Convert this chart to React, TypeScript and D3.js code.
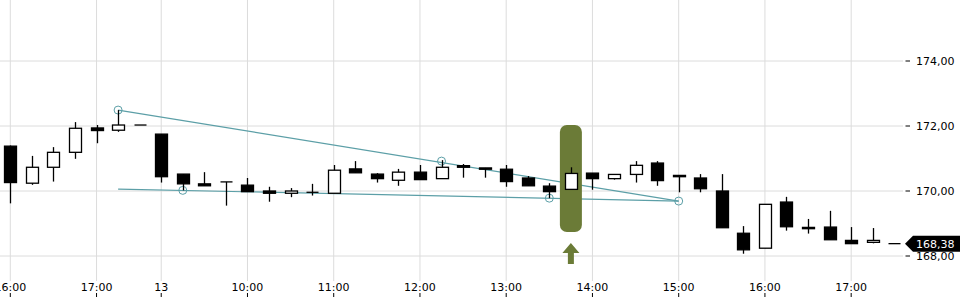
import React from "react";
import * as d3 from "d3";

const W = 960;
const H = 300;

// 15-minute candles: index 0 = 16:00 (day 12), index 7 = 09:00 (day 13)
const opens = [171.38, 170.24, 170.73, 171.19, 171.94, 171.87, 172.03, 171.75, 170.52, 170.22, 170.28, 170.18, 170.0, 169.93, 169.96, 169.93, 170.68, 170.52, 170.33, 170.58, 170.38, 170.78, 170.71, 170.67, 170.4, 170.15, 170.05, 170.55, 170.38, 170.51, 170.86, 170.48, 170.4, 170.0, 168.7, 168.24, 169.66, 168.88, 168.89, 168.48, 168.42, 168.38];
const highs = [171.4, 171.08, 171.35, 172.12, 172.03, 172.49, 172.03, 171.75, 170.52, 170.58, 170.28, 170.4, 170.13, 170.09, 170.22, 170.8, 170.92, 170.55, 170.68, 170.8, 170.95, 170.83, 170.71, 170.8, 170.46, 170.24, 170.73, 170.55, 170.51, 170.92, 170.92, 170.48, 170.52, 170.52, 168.92, 169.59, 169.82, 169.14, 169.39, 168.89, 168.86, 168.38];
const lows = [169.62, 170.19, 170.29, 170.99, 171.47, 171.82, 172.03, 170.26, 170.02, 170.16, 169.55, 169.98, 169.67, 169.81, 169.86, 169.93, 170.56, 170.26, 170.16, 170.35, 170.38, 170.41, 170.41, 170.13, 170.16, 169.78, 170.05, 170.04, 170.35, 170.26, 170.16, 169.96, 169.96, 168.87, 168.07, 168.24, 168.78, 168.69, 168.5, 168.38, 168.39, 168.38];
const closes = [170.26, 170.73, 171.19, 171.93, 171.86, 172.03, 172.03, 170.44, 170.22, 170.16, 170.26, 169.98, 169.93, 170.0, 169.96, 170.64, 170.56, 170.38, 170.58, 170.35, 170.73, 170.73, 170.67, 170.29, 170.16, 169.98, 170.54, 170.38, 170.51, 170.79, 170.32, 170.44, 170.07, 168.87, 168.19, 169.59, 168.9, 168.84, 168.5, 168.38, 168.48, 168.38];

const xTickIdx = [0, 4, 7, 11, 15, 19, 23, 27, 31, 35, 39];
const xTickLabels = ["16:00", "17:00", "13", "10:00", "11:00", "12:00", "13:00", "14:00", "15:00", "16:00", "17:00"];
const yTicks = [168, 170, 172, 174];
const lastPrice = 168.38;

// trend lines: [index, value]
const upperTrend: [number, number][] = [[5, 172.49], [31, 169.69]];
const lowerTrend: [number, number][] = [[5, 170.06], [31, 169.69]];
const pivotMarks: [number, number][] = [[5, 172.49], [20, 170.92], [8, 170.02], [25, 169.78], [31, 169.69]];
const highlightIdx = 26;
const highlightRange = [172.03, 168.74];

const fmt = (v: number) => v.toFixed(2).replace(".", ",");

export default function App() {
  const x = d3.scaleLinear().domain([0, 41]).range([10.3, 894.3]);
  const y = d3.scaleLinear().domain([168, 174]).range([256, 61]);
  const bw = 12;
  const teal = "#5c9fa7";
  const olive = "#6b7b37";
  const font = "'DejaVu Sans', sans-serif";
  const line = d3.line<[number, number]>().x((d) => x(d[0])).y((d) => y(d[1]));
  const hx = x(highlightIdx);
  const ay = y(lastPrice);

  return (
    <svg width={W} height={H} style={{ position: "absolute", left: 0, top: 0, background: "#fff" }} fontFamily={font}>
      {/* grid */}
      {xTickIdx.map((i) => (
        <line key={"vg" + i} x1={x(i)} x2={x(i)} y1={0} y2={281} stroke="#dcdcdc" strokeWidth={1} />
      ))}
      {yTicks.map((v) => (
        <line key={"hg" + v} x1={0} x2={903} y1={y(v)} y2={y(v)} stroke="#dcdcdc" strokeWidth={1} />
      ))}
      {/* y axis */}
      {yTicks.map((v) => (
        <g key={"yt" + v}>
          <line x1={905.5} x2={910} y1={y(v)} y2={y(v)} stroke="#000" strokeWidth={1} />
          <text x={916} y={y(v)} dy="0.35em" fontSize={11} fill="#000">{fmt(v)}</text>
        </g>
      ))}
      {/* x axis */}
      {xTickIdx.map((i, k) => (
        <g key={"xt" + i}>
          <text x={x(i)} y={291} textAnchor="middle" fontSize={11} fill="#000">{xTickLabels[k]}</text>
          <line x1={x(i)} x2={x(i)} y1={293} y2={297} stroke="#000" strokeWidth={1} />
        </g>
      ))}
      {/* trend lines */}
      <path d={line(upperTrend) || ""} stroke={teal} strokeWidth={1.2} fill="none" />
      <path d={line(lowerTrend) || ""} stroke={teal} strokeWidth={1.2} fill="none" />
      {pivotMarks.map((p, k) => (
        <circle key={"pm" + k} cx={x(p[0])} cy={y(p[1])} r={4} fill="none" stroke={teal} strokeWidth={1} />
      ))}
      {/* highlight */}
      <rect x={hx - 11} y={y(highlightRange[0])} width={22} height={y(highlightRange[1]) - y(highlightRange[0])} rx={7} fill={olive} />
      <path
        d={`M${hx},243 L${hx + 8.5},253 L${hx + 3},253 L${hx + 3},264 L${hx - 3},264 L${hx - 3},253 L${hx - 8.5},253 Z`}
        fill={olive}
      />
      {/* candles */}
      {opens.map((o, i) => {
        const c = closes[i];
        const up = c >= o;
        const top = y(Math.max(o, c));
        const bot = y(Math.min(o, c));
        const cx = Math.round(x(i)) + 0.5;
        const flat = bot - top < 0.8;
        return (
          <g key={"c" + i}>
            <line x1={cx} x2={cx} y1={y(highs[i])} y2={y(lows[i])} stroke="#000" strokeWidth={1.3} />
            {flat ? (
              <line x1={cx - bw / 2} x2={cx + bw / 2} y1={top} y2={top} stroke="#000" strokeWidth={1.3} />
            ) : (
              <rect x={cx - bw / 2} y={top} width={bw} height={bot - top} fill={up ? "#fff" : "#000"} stroke="#000" strokeWidth={1.3} />
            )}
          </g>
        );
      })}
      {/* last price label */}
      <path d={`M905,${ay} L913,${ay - 8} L960,${ay - 8} L960,${ay + 8} L913,${ay + 8} Z`} fill="#000" />
      <text x={916} y={ay} dy="0.35em" fontSize={11} fill="#fff">{fmt(lastPrice)}</text>
    </svg>
  );
}
